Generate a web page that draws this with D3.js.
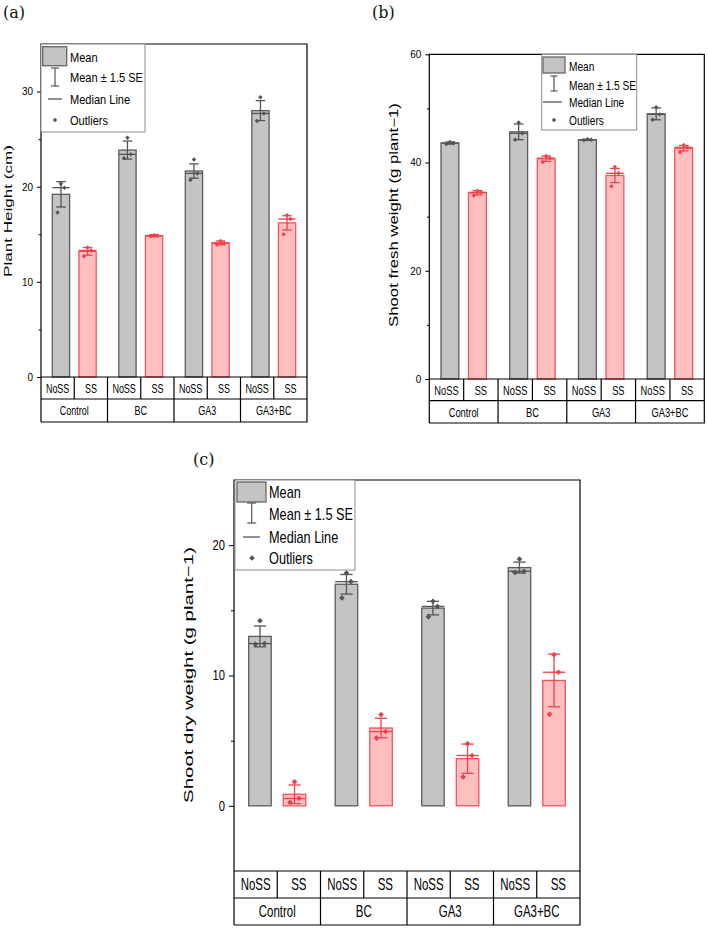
<!DOCTYPE html>
<html><head><meta charset="utf-8">
<script src="https://cdn.jsdelivr.net/npm/d3@7"></script>
<style>body{margin:0;background:#fff}</style>
</head><body>
<svg id="chart" width="708" height="929"></svg>
<script>
// ---------- DATA ----------
const groups = ["Control", "BC", "GA3", "GA3+BC"];
const treatments = ["NoSS", "SS"];
const legendLabels = ["Mean", "Mean \u00b1 1.5 SE", "Median Line", "Outliers"];

// order: Control NoSS, Control SS, BC NoSS, BC SS, GA3 NoSS, GA3 SS, GA3+BC NoSS, GA3+BC SS
const heightMean   = [19.2, 13.2, 23.85, 14.85, 21.65, 14.1, 28.0, 16.2];
const heightErr    = [1.33, 0.4, 0.95, 0.1, 0.75, 0.2, 1.05, 0.75];
const heightMedian = [19.9, 13.3, 23.4, 14.85, 21.4, 14.05, 27.7, 16.6];
const heightPoints = [[20.3, 19.9, 17.3], [13.6, 13.3, 12.7], [25.15, 23.4, 23.0], [14.9, 14.85, 14.8],
                      [22.85, 21.4, 20.7], [14.3, 14.05, 13.9], [29.4, 27.7, 26.9], [17.0, 16.6, 15.0]];
const heightTicks = [0, 10, 20, 30];
const heightMinor = [5, 15, 25];

const freshMean   = [43.6, 34.4, 45.67, 40.7, 44.2, 37.6, 49.0, 42.65];
const freshErr    = [0.2, 0.4, 1.45, 0.5, 0.1, 1.3, 1.1, 0.5];
const freshMedian = [43.6, 34.5, 45.4, 40.8, 44.2, 38.0, 48.9, 42.8];
const freshPoints = [[43.8, 43.6, 43.4], [34.8, 34.5, 33.9], [47.4, 45.4, 44.2], [41.2, 40.8, 40.1],
                     [44.3, 44.2, 44.1], [39.2, 38.0, 35.6], [50.2, 48.9, 47.9], [43.25, 42.8, 41.9]];
const freshTicks = [0, 20, 40, 60];
const freshMinor = [10, 30, 50];

const dryMean   = [13.0, 0.89, 17.0, 5.97, 15.17, 3.62, 18.28, 9.62];
const dryErr    = [0.8, 0.71, 0.75, 0.75, 0.52, 1.12, 0.42, 2.02];
const dryMedian = [12.45, 0.56, 17.2, 5.7, 15.3, 3.86, 18.0, 10.25];
const dryPoints = [[14.2, 12.45, 12.4], [1.84, 0.56, 0.26], [17.86, 17.2, 15.95], [7.0, 5.7, 5.2],
                   [15.7, 15.3, 14.5], [4.77, 3.86, 2.22], [18.93, 18.0, 17.9], [11.6, 10.25, 7.02]];
const dryTicks = [0, 10, 20];
const dryMinor = [5, 15];

// ---------- STYLE ----------
const SANS = "'Liberation Sans', Arial, sans-serif";
const SERIF = "'DejaVu Serif', 'Liberation Serif', serif";
const COL = {
  NoSS: {fill: "#c4c4c4", stroke: "#5c5c5c", err: "#555555"},
  SS:   {fill: "#ffbfbf", stroke: "#f2545c", err: "#f0404a"}
};
const JITTER = [0, 0.4, -0.4];

const svg = d3.select("#chart");

function scaledText(parent, str, x, y, size, sx, anchor, family) {
  return parent.append("text").text(str)
    .attr("font-family", family || SANS).attr("font-size", size)
    .attr("text-anchor", anchor || "start")
    .attr("transform", `translate(${x},${y}) scale(${sx},1)`);
}
function widthOf(str, size, family) {
  const t = svg.append("text").text(str).attr("font-family", family || SANS).attr("font-size", size);
  const w = t.node().getComputedTextLength();
  t.remove();
  return w || 1;
}

const panels = [
  {label: "(a)", lx: 3, ly: 18, title: "Plant Height (cm)",
   mean: heightMean, err: heightErr, median: heightMedian, pts: heightPoints,
   ticks: heightTicks, minor: heightMinor, domain: [0, 35],
   left: 41, right: 307, top: 44, bottom: 377, row1: 399, row2: 422,
   titleX: 8, titleY: 211, titleLen: 132, titleSize: 11,
   tickSize: 10.5, tickSx: 0.95, tickLen: 4, tickPad: 4,
   tableSize: 13, tableRefW: 29, ptSize: 10,
   leg: {x: 41, y: 44, w: 104, h: 88, sw: [1.7, 2.7, 24, 19], tx: 29, rows: [13, 33, 55, 76],
         errX: 14, errY: [24, 42], cap: 8, medX: [7, 21], dotX: 14, font: 13, textW: 73, dot: 10}},
  {label: "(b)", lx: 372, ly: 18, title: "Shoot fresh weight (g plant\u22121)",
   mean: freshMean, err: freshErr, median: freshMedian, pts: freshPoints,
   ticks: freshTicks, minor: freshMinor, domain: [0, 60],
   left: 429.3, right: 704.3, top: 54.3, bottom: 379, row1: 400.7, row2: 423,
   titleX: 393.5, titleY: 215, titleLen: 224, titleSize: 12,
   tickSize: 10.5, tickSx: 0.95, tickLen: 4, tickPad: 4,
   tableSize: 13, tableRefW: 30, ptSize: 10,
   leg: {x: 541.7, y: 54.3, w: 95, h: 75.7, sw: [1.3, 2.7, 22, 16], tx: 27.3, rows: [12.4, 30.7, 47.7, 65.7],
         errX: 12.3, errY: [21.7, 36.7], cap: 7, medX: [1.3, 20.3], dotX: 12.3, font: 12.5, textW: 67, dot: 10}},
  {label: "(c)", lx: 193, ly: 465, title: "Shoot dry weight (g plant\u22121)",
   mean: dryMean, err: dryErr, median: dryMedian, pts: dryPoints,
   ticks: dryTicks, minor: dryMinor, domain: [-5, 25],
   left: 234, right: 580, top: 480, bottom: 871, row1: 898, row2: 925,
   titleX: 189, titleY: 675, titleLen: 256, titleSize: 13,
   tickSize: 14, tickSx: 0.8, tickLen: 5, tickPad: 4,
   tableSize: 16, tableRefW: 37, ptSize: 16,
   leg: {x: 235, y: 480, w: 120, h: 90, sw: [2, 2, 29, 20], tx: 34, rows: [12, 34, 57, 78],
         errX: 16.7, errY: [23, 43], cap: 9, medX: [8, 25], dotX: 17, font: 16, textW: 84, dot: 16}}
];

function drawPanel(p) {
  const g = svg.append("g");
  const x0 = d3.scaleBand().domain(groups).range([p.left, p.right]).padding(0);
  const W = x0.bandwidth();
  const x1 = d3.scalePoint().domain(treatments).range([0.3 * W, 0.7 * W]);
  const y = d3.scaleLinear().domain(p.domain).range([p.bottom, p.top]);
  const bw = 0.26 * W;

  const items = [];
  groups.forEach((gn, gi) => treatments.forEach((t, ti) => {
    const i = gi * 2 + ti;
    items.push({g: gn, t: t, mean: p.mean[i], err: p.err[i], med: p.median[i], pts: p.pts[i]});
  }));
  const cx = d => x0(d.g) + x1(d.t);

  // bars
  g.selectAll("rect.bar").data(items).join("rect").attr("class", "bar")
    .attr("x", d => cx(d) - bw / 2).attr("width", bw)
    .attr("y", d => y(Math.max(0, d.mean)))
    .attr("height", d => Math.abs(y(d.mean) - y(0)))
    .attr("fill", d => COL[d.t].fill).attr("stroke", d => COL[d.t].stroke).attr("stroke-width", 1.3);

  // median lines
  g.selectAll("line.med").data(items).join("line").attr("class", "med")
    .attr("x1", d => cx(d) - bw / 2).attr("x2", d => cx(d) + bw / 2)
    .attr("y1", d => y(d.med)).attr("y2", d => y(d.med))
    .attr("stroke", d => COL[d.t].err).attr("stroke-width", 1.3);

  // error bars
  const cap = 0.55 * bw;
  const eb = g.selectAll("g.eb").data(items).join("g").attr("class", "eb")
    .attr("stroke", d => COL[d.t].err).attr("stroke-width", 1.3);
  eb.append("line").attr("x1", cx).attr("x2", cx)
    .attr("y1", d => y(d.mean + d.err)).attr("y2", d => y(d.mean - d.err));
  eb.append("line").attr("x1", d => cx(d) - cap / 2).attr("x2", d => cx(d) + cap / 2)
    .attr("y1", d => y(d.mean + d.err)).attr("y2", d => y(d.mean + d.err));
  eb.append("line").attr("x1", d => cx(d) - cap / 2).attr("x2", d => cx(d) + cap / 2)
    .attr("y1", d => y(d.mean - d.err)).attr("y2", d => y(d.mean - d.err));

  // points
  const sym = d3.symbol(d3.symbolSquare, p.ptSize);
  items.forEach(d => {
    const sorted = d.pts.slice().sort((a, b) => b - a);
    sorted.forEach((v, k) => {
      g.append("path").attr("d", sym)
        .attr("transform", `translate(${cx(d) + JITTER[k] * bw / 2},${y(v)}) rotate(45)`)
        .attr("fill", COL[d.t].err);
    });
  });

  // axis (major + minor ticks)
  const ax = g.append("g").attr("transform", `translate(${p.left},0)`)
    .call(d3.axisLeft(y).tickValues(p.ticks).tickSize(p.tickLen).tickSizeOuter(0).tickPadding(p.tickPad).tickFormat(d3.format("d")));
  ax.select(".domain").remove();
  ax.selectAll("line").attr("stroke", "#000").attr("stroke-width", 1);
  ax.selectAll("text").each(function () {
    const t = d3.select(this);
    const xx = +t.attr("x");
    t.attr("font-family", SANS).attr("font-size", p.tickSize).attr("fill", "#000")
      .attr("x", xx / p.tickSx).attr("transform", `scale(${p.tickSx},1)`);
  });
  const axm = g.append("g").attr("transform", `translate(${p.left},0)`)
    .call(d3.axisLeft(y).tickValues(p.minor).tickSize(p.tickLen * 0.6).tickSizeOuter(0).tickFormat(""));
  axm.select(".domain").remove();
  axm.selectAll("line").attr("stroke", "#000").attr("stroke-width", 1);

  // frame
  const fr = g.append("g").attr("stroke", "#000").attr("stroke-width", 1.2).attr("fill", "none");
  fr.append("path").attr("d", `M${p.left},${p.row2}V${p.top}H${p.right}V${p.row2}H${p.left}`);
  fr.append("line").attr("x1", p.left).attr("x2", p.right).attr("y1", p.bottom).attr("y2", p.bottom);
  fr.append("line").attr("x1", p.left).attr("x2", p.right).attr("y1", p.row1).attr("y2", p.row1);
  groups.forEach((gn, gi) => {
    const gx = x0(gn);
    if (gi > 0) fr.append("line").attr("x1", gx).attr("x2", gx).attr("y1", p.bottom).attr("y2", p.row2);
    fr.append("line").attr("x1", gx + W / 2).attr("x2", gx + W / 2).attr("y1", p.bottom).attr("y2", p.row1);
  });

  // table labels
  const tsx = p.tableRefW / widthOf("Control", p.tableSize);
  const r1 = (p.bottom + p.row1) / 2 + p.tableSize * 0.36;
  const r2 = (p.row1 + p.row2) / 2 + p.tableSize * 0.36;
  groups.forEach(gn => {
    treatments.forEach((t, ti) => {
      scaledText(g, t, x0(gn) + W * (0.25 + 0.5 * ti), r1, p.tableSize, tsx, "middle");
    });
    scaledText(g, gn, x0(gn) + W / 2, r2, p.tableSize, tsx, "middle");
  });

  // y title (rotated)
  const tw = widthOf(p.title, p.titleSize);
  g.append("text").text(p.title)
    .attr("font-family", SANS).attr("font-size", p.titleSize)
    .attr("text-anchor", "middle").attr("dominant-baseline", "central")
    .attr("transform", `translate(${p.titleX},${p.titleY}) rotate(-90) scale(${p.titleLen / tw},1)`);

  // panel label
  g.append("text").text(p.label).attr("x", p.lx).attr("y", p.ly)
    .attr("font-family", SERIF).attr("font-size", 16).attr("fill", "#111");

  // legend
  const L = p.leg;
  const lg = g.append("g").attr("transform", `translate(${L.x},${L.y})`);
  lg.append("rect").attr("width", L.w).attr("height", L.h).attr("fill", "#fff")
    .attr("stroke", "#8c8c8c").attr("stroke-width", 1);
  lg.append("rect").attr("x", L.sw[0]).attr("y", L.sw[1]).attr("width", L.sw[2]).attr("height", L.sw[3])
    .attr("fill", COL.NoSS.fill).attr("stroke", "#666").attr("stroke-width", 1.3);
  const es = lg.append("g").attr("stroke", "#555").attr("stroke-width", 1.2);
  es.append("line").attr("x1", L.errX).attr("x2", L.errX).attr("y1", L.errY[0]).attr("y2", L.errY[1]);
  es.append("line").attr("x1", L.errX - L.cap / 2).attr("x2", L.errX + L.cap / 2).attr("y1", L.errY[0]).attr("y2", L.errY[0]);
  es.append("line").attr("x1", L.errX - L.cap / 2).attr("x2", L.errX + L.cap / 2).attr("y1", L.errY[1]).attr("y2", L.errY[1]);
  lg.append("line").attr("x1", L.medX[0]).attr("x2", L.medX[1]).attr("y1", L.rows[2]).attr("y2", L.rows[2])
    .attr("stroke", "#555").attr("stroke-width", 1.3);
  lg.append("path").attr("d", d3.symbol(d3.symbolSquare, L.dot))
    .attr("transform", `translate(${L.dotX},${L.rows[3]}) rotate(45)`).attr("fill", "#555");
  const lsx = L.textW / widthOf(legendLabels[1], L.font);
  legendLabels.forEach((s, i) => {
    scaledText(lg, s, L.tx, L.rows[i] + L.font * 0.36, L.font, lsx, "start");
  });
}

panels.forEach(drawPanel);
</script>
</body></html>
